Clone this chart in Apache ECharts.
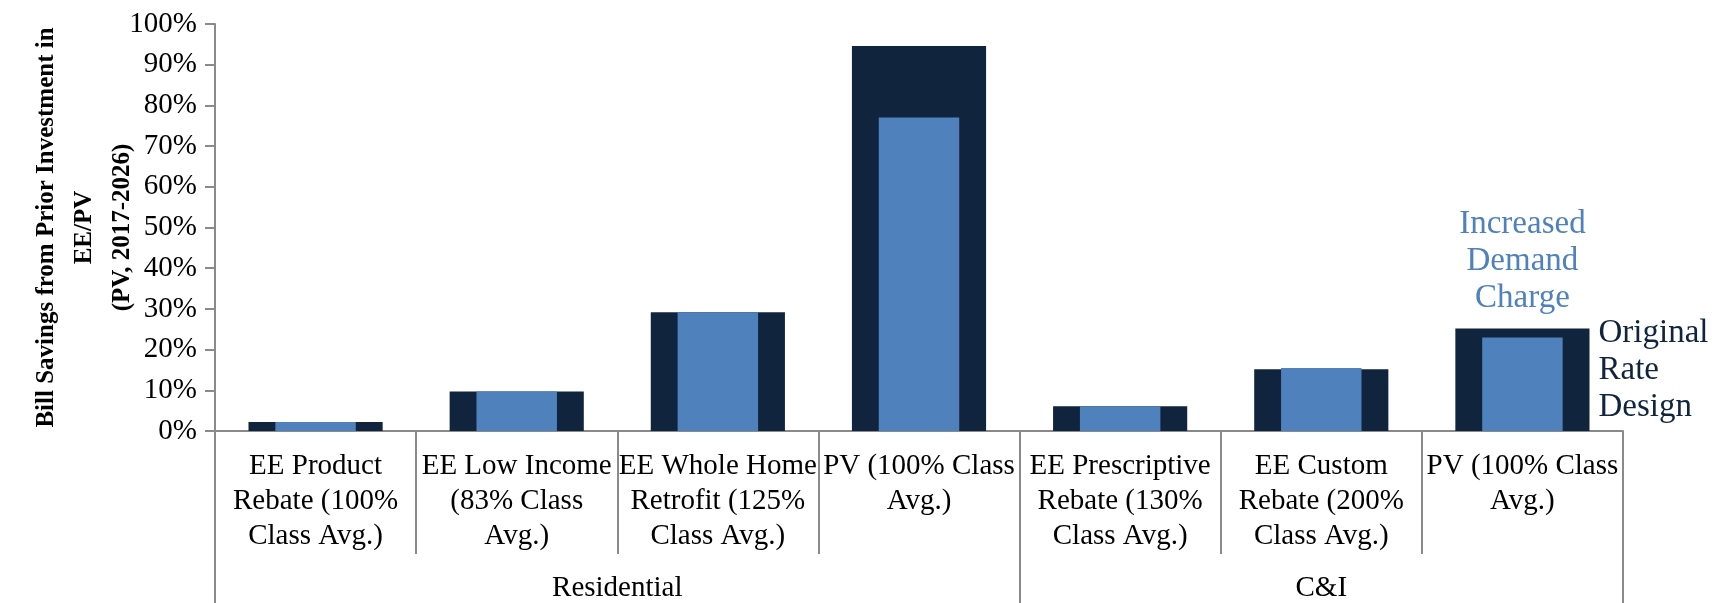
<!DOCTYPE html>
<html>
<head>
<meta charset="utf-8">
<script src="https://cdn.jsdelivr.net/npm/echarts@6/dist/echarts.min.js"></script>
<style>
html,body{margin:0;padding:0;background:#fff;}
#chart{width:1715px;height:603px;}
</style>
</head>
<body>
<div id="chart"></div>
<script>
const categories = [
  'EE Product\nRebate (100%\nClass Avg.)',
  'EE Low Income\n(83% Class\nAvg.)',
  'EE Whole Home\nRetrofit (125%\nClass Avg.)',
  'PV (100% Class\nAvg.)',
  'EE Prescriptive\nRebate (130%\nClass Avg.)',
  'EE Custom\nRebate (200%\nClass Avg.)',
  'PV (100% Class\nAvg.)'
];
const groups = ['Residential', 'C&I'];
const groupBounds = [0, 4, 7];        // category boundaries of groups
const groupCenters = [2, 5.5];        // label positions in category units
const originalRate = [2.2, 9.7, 29.2, 94.6, 6.1, 15.2, 25.2];
const increasedDemand = [2.2, 9.7, 29.2, 77.0, 6.1, 15.5, 23.0];
const yTicks = [0, 10, 20, 30, 40, 50, 60, 70, 80, 90, 100];
const seriesNames = ['Original\nRate\nDesign', 'Increased\nDemand\nCharge'];

const FONT = 'Liberation Serif';
const DARK = '#11243e';
const LIGHT = '#4f81bd';
const AXIS = '#8a8a8a';

const chart = echarts.init(document.getElementById('chart'), null, {renderer: 'canvas'});
const last = categories.length - 1;

chart.setOption({
  animation: false,
  backgroundColor: '#ffffff',
  grid: {left: 215, right: 92, top: 24, bottom: 171, containLabel: false},
  xAxis: [
    {
      type: 'category', data: categories, position: 'bottom',
      boundaryGap: true,
      axisLine: {show: true, lineStyle: {color: AXIS, width: 2}},
      axisTick: {show: true, interval: 0, length: 123, lineStyle: {color: AXIS, width: 2}},
      axisLabel: {interval: 0, margin: 18, color: '#000', fontFamily: FONT, fontSize: 29, lineHeight: 35, align: 'center'},
      splitLine: {show: false}
    },
    {
      type: 'category', data: categories, show: false, boundaryGap: true
    },
    {
      type: 'value', min: 0, max: categories.length, position: 'bottom',
      axisLine: {show: false},
      axisTick: {show: true, customValues: groupBounds, length: 172, lineStyle: {color: AXIS, width: 2}},
      axisLabel: {
        show: true, customValues: groupCenters, margin: 143,
        color: '#000', fontFamily: FONT, fontSize: 29,
        formatter: function (v) { const i = groupCenters.indexOf(v); return i >= 0 ? groups[i] : ''; }
      },
      splitLine: {show: false}
    }
  ],
  yAxis: {
    type: 'value', min: yTicks[0], max: yTicks[yTicks.length - 1], interval: 10,
    axisLine: {show: true, lineStyle: {color: AXIS, width: 2}},
    axisTick: {show: true, length: 10, lineStyle: {color: AXIS, width: 2}},
    axisLabel: {formatter: '{value}%', color: '#000', fontFamily: FONT, fontSize: 29, margin: 18},
    splitLine: {show: false},
    name: 'Bill Savings from Prior Investment in\nEE/PV\n(PV, 2017-2026)',
    nameLocation: 'middle', nameRotate: 90, nameGap: 73, nameMoveOverlap: false,
    nameTextStyle: {fontFamily: FONT, fontSize: 25, fontWeight: 'bold', color: '#000', lineHeight: 38, align: 'center'}
  },
  series: [
    {
      name: 'Original Rate Design', type: 'bar', xAxisIndex: 0, barWidth: '66.7%',
      itemStyle: {color: DARK},
      data: originalRate.map((v, i) => i === last ? {
        value: v,
        label: {show: true, position: 'right', distance: 9, offset: [0, -9], formatter: seriesNames[0],
          color: DARK, fontFamily: FONT, fontSize: 33, lineHeight: 37, align: 'left'}
      } : v)
    },
    {
      name: 'Increased Demand Charge', type: 'bar', xAxisIndex: 1, barWidth: '40%',
      itemStyle: {color: LIGHT},
      data: increasedDemand.map((v, i) => i === last ? {
        value: v,
        label: {show: true, position: 'top', distance: 21, formatter: seriesNames[1],
          color: LIGHT, fontFamily: FONT, fontSize: 33, lineHeight: 37, align: 'center'}
      } : v)
    }
  ]
});
</script>
</body>
</html>
